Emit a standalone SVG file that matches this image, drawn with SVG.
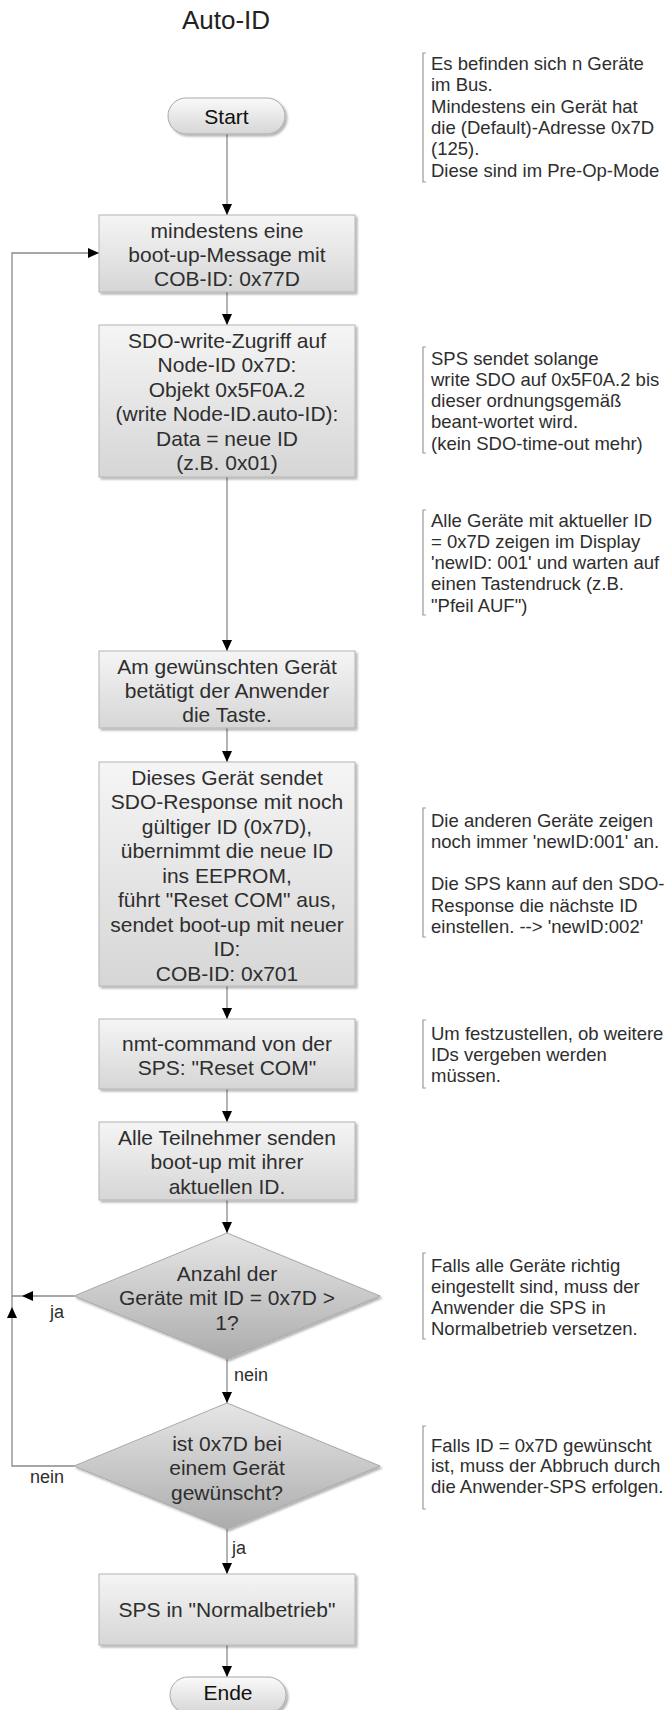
<svg xmlns="http://www.w3.org/2000/svg" width="667" height="1710" viewBox="0 0 667 1710">
<defs>
<linearGradient id="gBox" x1="0" y1="0" x2="0" y2="1"><stop offset="0" stop-color="#f5f5f5"/><stop offset="1" stop-color="#d6d6d6"/></linearGradient>
<linearGradient id="gDia" x1="0" y1="0" x2="0" y2="1"><stop offset="0" stop-color="#e6e6e6"/><stop offset="1" stop-color="#acacac"/></linearGradient>
<linearGradient id="gPill" x1="0" y1="0" x2="0" y2="1"><stop offset="0" stop-color="#fafafa"/><stop offset="1" stop-color="#d6d6d6"/></linearGradient>
<filter id="sh" x="-10%" y="-10%" width="125%" height="125%"><feDropShadow dx="2" dy="2" stdDeviation="1.2" flood-color="#000" flood-opacity="0.3"/></filter>
<marker id="arr" markerUnits="userSpaceOnUse" markerWidth="12" markerHeight="11" refX="11" refY="5" orient="auto"><path d="M0,0 L11,5 L0,10 z" fill="#000"/></marker>
</defs>
<style>
text{font-family:"Liberation Sans",Arial,sans-serif;fill:#2e2e2e}
.bt{font-size:21px;text-anchor:middle}
.nt{font-size:18.5px}
.lb{font-size:18px}
.box{fill:url(#gBox);stroke:#b4b4b4;stroke-width:1;filter:url(#sh)}
.dia{fill:url(#gDia);stroke:#a8a8a8;stroke-width:1;filter:url(#sh)}
.pill{fill:url(#gPill);stroke:#a8a8a8;stroke-width:1;filter:url(#sh)}
.br{fill:none;stroke:#999;stroke-width:1.2}
.cn{fill:none;stroke:#8a8a8a;stroke-width:1.3}
.cn.a{marker-end:url(#arr)}
</style>
<rect width="667" height="1710" fill="#fff"/>
<text x="226" y="28.5" style="font-size:26px;text-anchor:middle;fill:#222">Auto-ID</text>

<g id="connectors">
<path class="cn a" d="M227,134 V215"/>
<path class="cn a" d="M227,292 V325"/>
<path class="cn a" d="M227,477 V651"/>
<path class="cn a" d="M227,728 V762"/>
<path class="cn a" d="M227,986 V1019"/>
<path class="cn a" d="M227,1089 V1122"/>
<path class="cn a" d="M227,1200 V1233"/>
<path class="cn a" d="M227,1359 V1403"/>
<path class="cn a" d="M227,1529 V1574"/>
<path class="cn a" d="M227,1645 V1677"/>
<path class="cn a" d="M74,1296 H22"/>
<path class="cn a" d="M22,1296 H12 V253 H99"/>
<path class="cn a" d="M74,1466 H12 V1307"/>
<path class="cn" d="M12,1307 V1296"/>
<text class="lb" x="50" y="1318">ja</text>
<text class="lb" x="234" y="1381">nein</text>
<text class="lb" x="30" y="1483">nein</text>
<text class="lb" x="232" y="1554">ja</text>
</g>

<g id="start">
<rect class="pill" x="168" y="98" width="117" height="36" rx="18"/>
<text x="226.5" y="123.5" style="font-size:21px;text-anchor:middle;fill:#111">Start</text>
</g>

<g id="box1">
<rect class="box" x="99" y="215" width="256" height="77"/>
<text class="bt" x="227" y="238">mindestens eine</text>
<text class="bt" x="227" y="262">boot-up-Message mit</text>
<text class="bt" x="227" y="286">COB-ID: 0x77D</text>
</g>

<g id="box2">
<rect class="box" x="99" y="325" width="256" height="152"/>
<text class="bt" x="227" y="347.5">SDO-write-Zugriff auf</text>
<text class="bt" x="227" y="372">Node-ID 0x7D:</text>
<text class="bt" x="227" y="396.5">Objekt 0x5F0A.2</text>
<text class="bt" x="227" y="421">(write Node-ID.auto-ID):</text>
<text class="bt" x="227" y="445.5">Data = neue ID</text>
<text class="bt" x="227" y="470">(z.B. 0x01)</text>
</g>

<g id="box3">
<rect class="box" x="99" y="651" width="256" height="77"/>
<text class="bt" x="227" y="673.5">Am gewünschten Gerät</text>
<text class="bt" x="227" y="698">betätigt der Anwender</text>
<text class="bt" x="227" y="722">die Taste.</text>
</g>

<g id="box4">
<rect class="box" x="99" y="762" width="256" height="224"/>
<text class="bt" x="227" y="784.5">Dieses Gerät sendet</text>
<text class="bt" x="227" y="809">SDO-Response mit noch</text>
<text class="bt" x="227" y="833.5">gültiger ID (0x7D),</text>
<text class="bt" x="227" y="858">übernimmt die neue ID</text>
<text class="bt" x="227" y="882.5">ins EEPROM,</text>
<text class="bt" x="227" y="907">führt "Reset COM" aus,</text>
<text class="bt" x="227" y="931.5">sendet boot-up mit neuer</text>
<text class="bt" x="227" y="956">ID:</text>
<text class="bt" x="227" y="980.5">COB-ID: 0x701</text>
</g>

<g id="box5">
<rect class="box" x="99" y="1019" width="256" height="70"/>
<text class="bt" x="227" y="1050.5">nmt-command von der</text>
<text class="bt" x="227" y="1075">SPS: "Reset COM"</text>
</g>

<g id="box6">
<rect class="box" x="99" y="1122" width="256" height="78"/>
<text class="bt" x="227" y="1144.5">Alle Teilnehmer senden</text>
<text class="bt" x="227" y="1169">boot-up mit ihrer</text>
<text class="bt" x="227" y="1193.5">aktuellen ID.</text>
</g>

<g id="decision1">
<polygon class="dia" points="227,1233 380,1296 227,1359 74,1296"/>
<text class="bt" x="227" y="1280.5">Anzahl der</text>
<text class="bt" x="227" y="1305">Geräte mit ID = 0x7D &gt;</text>
<text class="bt" x="227" y="1329.5">1?</text>
</g>

<g id="decision2">
<polygon class="dia" points="227,1403 380,1466 227,1529 74,1466"/>
<text class="bt" x="227" y="1450.5">ist 0x7D bei</text>
<text class="bt" x="227" y="1475">einem Gerät</text>
<text class="bt" x="227" y="1499.5">gewünscht?</text>
</g>

<g id="box7">
<rect class="box" x="99" y="1574" width="256" height="71"/>
<text class="bt" x="227" y="1617">SPS in "Normalbetrieb"</text>
</g>

<g id="ende">
<rect class="pill" x="170" y="1677" width="116" height="36" rx="18"/>
<text x="228" y="1699.5" style="font-size:21px;text-anchor:middle;fill:#111">Ende</text>
</g>

<g id="note1">
<path class="br" d="M426,53 H423 V182 H426"/>
<text class="nt" x="431" y="70">Es befinden sich n Geräte</text>
<text class="nt" x="431" y="91.3">im Bus.</text>
<text class="nt" x="431" y="112.6">Mindestens ein Gerät hat</text>
<text class="nt" x="431" y="134">die (Default)-Adresse 0x7D</text>
<text class="nt" x="431" y="155.3">(125).</text>
<text class="nt" x="431" y="176.6">Diese sind im Pre-Op-Mode</text>
</g>

<g id="note2">
<path class="br" d="M426,347 H423 V453 H426"/>
<text class="nt" x="431" y="364.5">SPS sendet solange</text>
<text class="nt" x="431" y="385.8">write SDO auf 0x5F0A.2 bis</text>
<text class="nt" x="431" y="407.1">dieser ordnungsgemäß</text>
<text class="nt" x="431" y="428.4">beant-wortet wird.</text>
<text class="nt" x="431" y="449.7">(kein SDO-time-out mehr)</text>
</g>

<g id="note3">
<path class="br" d="M426,510 H423 V615 H426"/>
<text class="nt" x="431" y="526.5">Alle Geräte mit aktueller ID</text>
<text class="nt" x="431" y="547.8">= 0x7D zeigen im Display</text>
<text class="nt" x="431" y="569.1">'newID: 001' und warten auf</text>
<text class="nt" x="431" y="590.4">einen Tastendruck (z.B.</text>
<text class="nt" x="431" y="611.7">"Pfeil AUF")</text>
</g>

<g id="note4">
<path class="br" d="M426,808 H423 V937 H426"/>
<text class="nt" x="431" y="826.5">Die anderen Geräte zeigen</text>
<text class="nt" x="431" y="847.8">noch immer 'newID:001' an.</text>
<text class="nt" x="431" y="890.4">Die SPS kann auf den SDO-</text>
<text class="nt" x="431" y="911.7">Response die nächste ID</text>
<text class="nt" x="431" y="933">einstellen. --&gt; 'newID:002'</text>
</g>

<g id="note5">
<path class="br" d="M426,1020 H423 V1088 H426"/>
<text class="nt" x="431" y="1039.5">Um festzustellen, ob weitere</text>
<text class="nt" x="431" y="1060.8">IDs vergeben werden</text>
<text class="nt" x="431" y="1082.1">müssen.</text>
</g>

<g id="note6">
<path class="br" d="M426,1253 H423 V1339 H426"/>
<text class="nt" x="431" y="1271.5">Falls alle Geräte richtig</text>
<text class="nt" x="431" y="1292.8">eingestellt sind, muss der</text>
<text class="nt" x="431" y="1314.1">Anwender die SPS in</text>
<text class="nt" x="431" y="1335.4">Normalbetrieb versetzen.</text>
</g>

<g id="note7">
<path class="br" d="M426,1426 H423 V1509 H426"/>
<text class="nt" x="431" y="1451.5">Falls ID = 0x7D gewünscht</text>
<text class="nt" x="431" y="1472">ist, muss der Abbruch durch</text>
<text class="nt" x="431" y="1492.5">die Anwender-SPS erfolgen.</text>
</g>
</svg>
